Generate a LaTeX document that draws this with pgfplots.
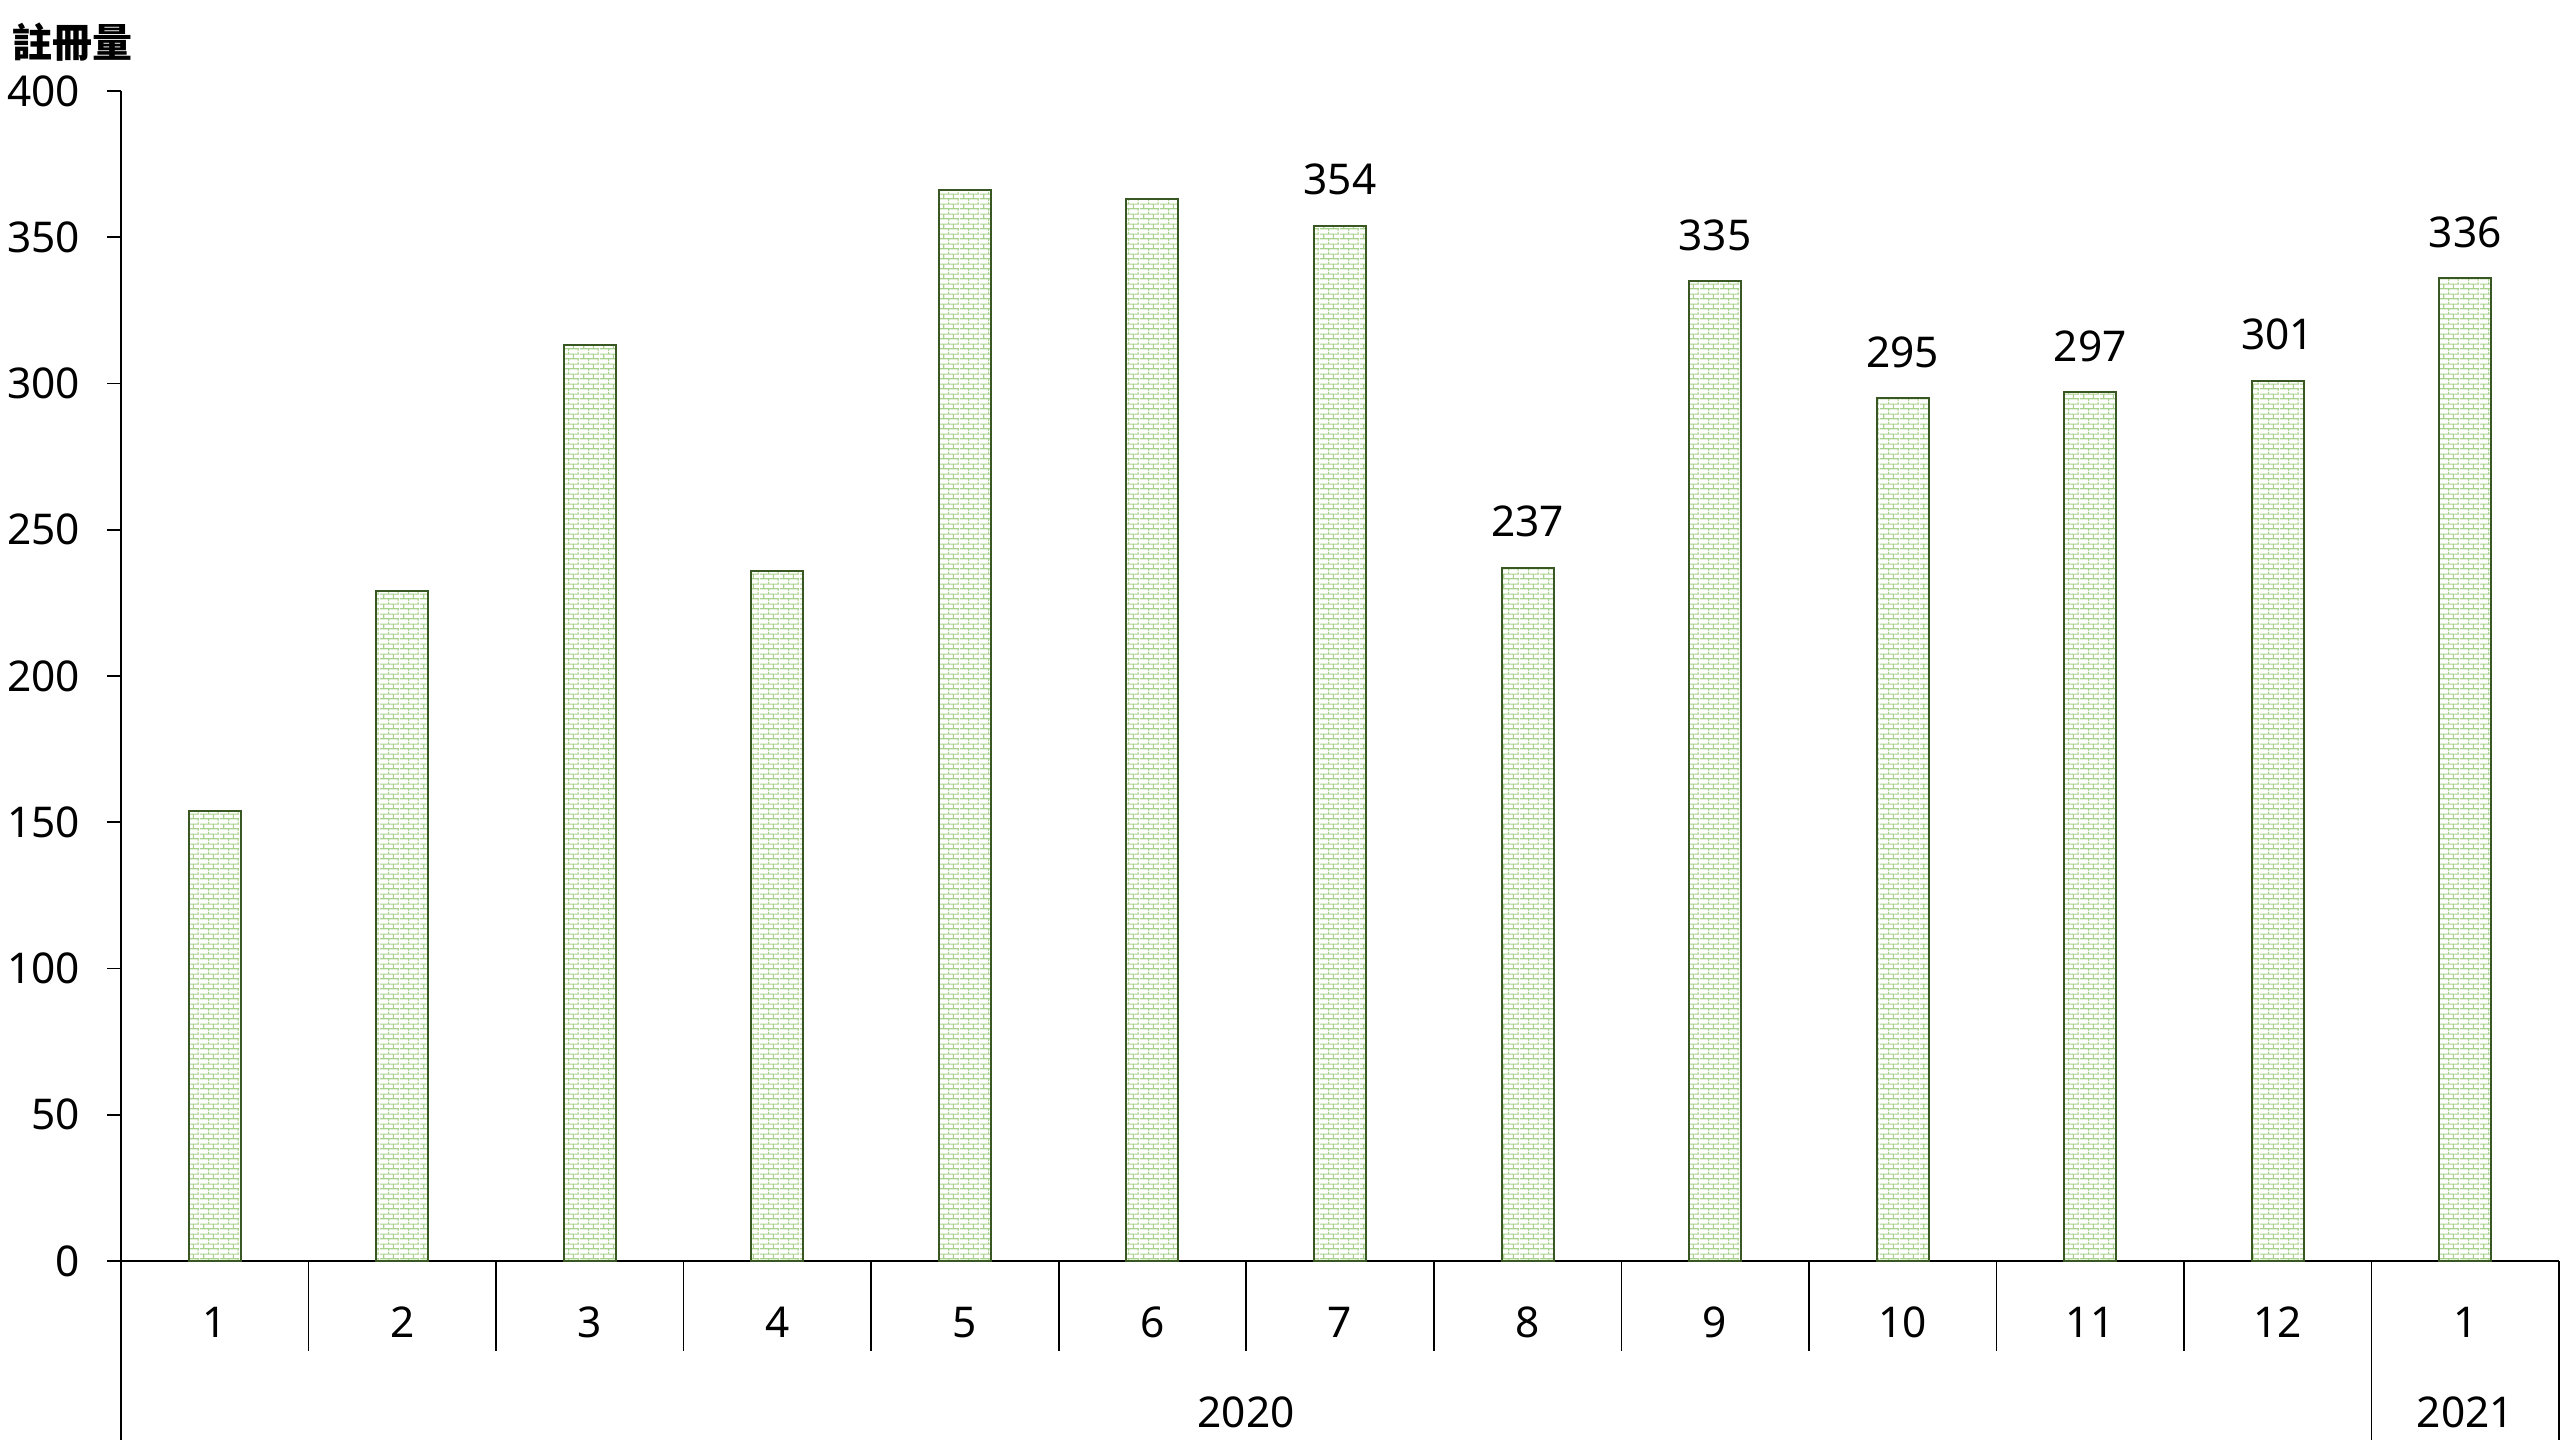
\documentclass[border=0pt]{standalone}
\usepackage{pgfplots}
\pgfplotsset{compat=1.18}
\usepackage{fontspec}
\setmainfont{Noto Sans}
\newfontfamily\cjk{Noto Sans CJK TC}
\usetikzlibrary{patterns.meta}
\definecolor{edgegreen}{RGB}{56,87,35}
\definecolor{brickgreen}{RGB}{169,209,142}
\tikzdeclarepattern{
  name=smallbricks,
  type=uncolored,
  bounding box={(0,0) and (5pt,2.5pt)},
  tile size={(5pt,2.5pt)},
  code={
    \pgfsetlinewidth{0.3pt}
    \pgfpathmoveto{\pgfqpoint{0pt}{0.625pt}}\pgfpathlineto{\pgfqpoint{5pt}{0.625pt}}
    \pgfpathmoveto{\pgfqpoint{0pt}{1.875pt}}\pgfpathlineto{\pgfqpoint{5pt}{1.875pt}}
    \pgfpathmoveto{\pgfqpoint{1pt}{0.625pt}}\pgfpathlineto{\pgfqpoint{1pt}{1.875pt}}
    \pgfpathmoveto{\pgfqpoint{3.5pt}{0.625pt}}\pgfpathlineto{\pgfqpoint{3.5pt}{1.875pt}}
    \pgfpathmoveto{\pgfqpoint{2.25pt}{1.875pt}}\pgfpathlineto{\pgfqpoint{2.25pt}{2.5pt}}
    \pgfpathmoveto{\pgfqpoint{2.25pt}{0pt}}\pgfpathlineto{\pgfqpoint{2.25pt}{0.625pt}}
    \pgfpathmoveto{\pgfqpoint{4.75pt}{1.875pt}}\pgfpathlineto{\pgfqpoint{4.75pt}{2.5pt}}
    \pgfpathmoveto{\pgfqpoint{4.75pt}{0pt}}\pgfpathlineto{\pgfqpoint{4.75pt}{0.625pt}}
    \pgfusepath{stroke}
  }
}
\pgfplotsset{mybar/.style={
    ybar, bar width=13pt, bar shift=0pt,
    draw=edgegreen, line width=0.5pt,
    pattern={smallbricks}, pattern color=brickgreen,
}}
\begin{document}
\begin{tikzpicture}
\useasboundingbox (0,0) rectangle (640pt,360pt);
\begin{axis}[
  at={(30.25pt,44.75pt)}, anchor=south west,
  scale only axis, width=609.5pt, height=292.5pt,
  xmin=-0.5, xmax=12.5, ymin=0, ymax=400,
  axis x line*=bottom, axis y line*=left,
  axis line style={black, line width=0.4pt},
  ytick={0,50,...,400},
  ytick pos=left, tick align=outside,
  major tick length=3.5pt,
  tick style={black, line width=0.4pt},
  xtick={0,...,12},
  xticklabels={1,2,3,4,5,6,7,8,9,10,11,12,1},
  x tick style={draw=none},
  xticklabel style={anchor=base, yshift=-15.5pt, inner sep=0pt},
  yticklabel style={anchor=east, inner sep=0pt, xshift=-6.6pt},
  /pgf/number format/assume math mode=true,
  ticklabel style={font=\fontsize{10.6}{13}\selectfont},
  clip=false,
]
\addplot[mybar] coordinates {(0,154) (1,229) (2,313) (3,236) (4,366) (5,363)};
\addplot[mybar, nodes near coords,
  nodes near coords style={anchor=base, yshift=7.75pt, inner sep=0pt, text=black, font=\fontsize{10.6}{13}\selectfont},
  point meta=explicit symbolic]
  coordinates {(6,354)[354] (7,237)[237] (8,335)[335] (9,295)[295] (10,297)[297] (11,301)[301] (12,336)[336]};
% category separators and frame below the axis
\pgfplotsinvokeforeach{0.5,1.5,2.5,3.5,4.5,5.5,6.5,7.5,8.5,9.5,10.5}{
  \draw[black, line width=0.4pt] (axis cs:#1,0) -- ++(0pt,-22.5pt);
}
\draw[black, line width=0.4pt] (axis cs:-0.5,0) -- ++(0pt,-44.75pt);
\draw[black, line width=0.4pt] (axis cs:11.5,0) -- ++(0pt,-44.75pt);
\draw[black, line width=0.4pt] (axis cs:12.5,0) -- ++(0pt,-44.75pt);
\path (axis cs:5.5,0) ++(0pt,-41.5pt) node[anchor=base, inner sep=0pt, font=\fontsize{10.6}{13}\selectfont] {2020};
\path (axis cs:12,0) ++(0pt,-41.5pt) node[anchor=base, inner sep=0pt, font=\fontsize{10.6}{13}\selectfont] {2021};
\end{axis}
\node[anchor=west, inner sep=0pt, font=\cjk\bfseries\fontsize{10}{12}\selectfont] at (3pt,349.5pt) {註冊量};
\end{tikzpicture}
\end{document}
